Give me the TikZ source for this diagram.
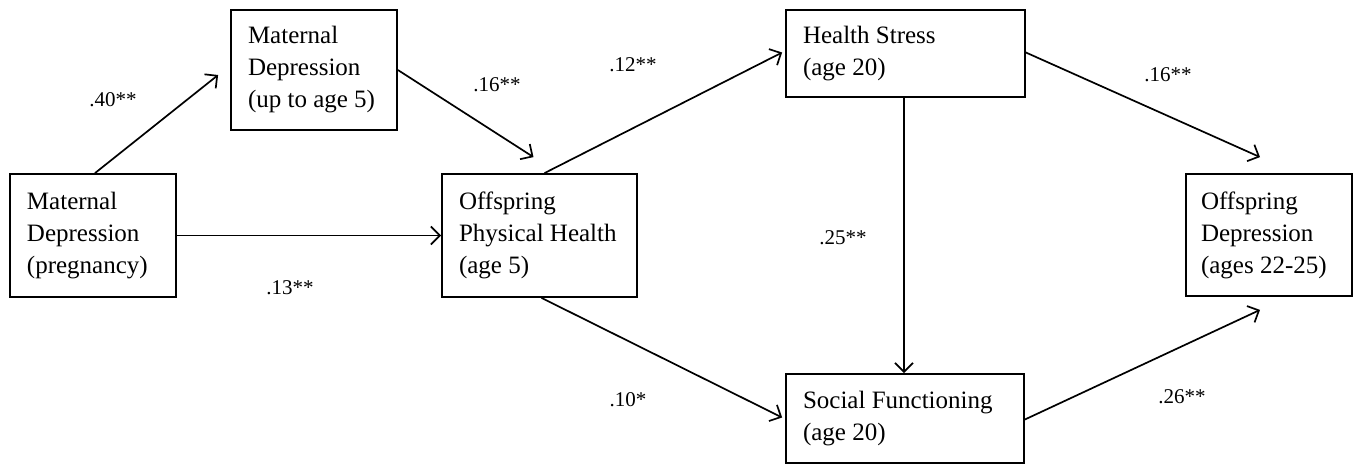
\documentclass[tikz,border=0pt]{standalone}
\usepackage{fontspec}
\setmainfont{Liberation Serif}
\usetikzlibrary{arrows.meta}
\begin{document}
\begin{tikzpicture}[x=1pt,y=-1pt,
  box/.style={draw,line width=1.8pt,inner xsep=17pt,inner ysep=0pt,align=flush left,
    font=\fontsize{25}{32}\selectfont,anchor=center},
  arr/.style={line width=1.7pt,-{Straight Barb[length=9pt,width=18pt,line width=1.7pt]}},
  lab/.style={font=\fontsize{21}{24}\selectfont,inner sep=0pt}]
\useasboundingbox (0,0) rectangle (1358,464);
\node[box,minimum width=166pt,minimum height=123pt,text width=132pt] (A) at (93,235.5) {Maternal\\Depression\\(pregnancy)};
\node[box,minimum width=166pt,minimum height=120pt,text width=132pt] (B) at (314,70) {Maternal\\Depression\\(up to age 5)};
\node[box,minimum width=195pt,minimum height=123pt,text width=161pt] (C) at (539.5,235.5) {Offspring\\Physical Health\\(age 5)};
\node[box,minimum width=239pt,minimum height=87pt,text width=205pt] (D) at (905.5,53.5) {Health Stress\\(age 20)};
\node[box,minimum width=238pt,minimum height=89pt,text width=204pt] (E) at (905,418.5) {Social Functioning\\(age 20)};
\node[box,minimum width=166pt,minimum height=122pt,text width=136pt,inner xsep=15pt] (F) at (1269,235) {Offspring\\Depression\\(ages 22-25)};
\draw[arr] ([xshift=2pt]A.north) -- ([shift={(-12,5)}]B.west);
\draw[arr] (A.east) -- (C.west);
\draw[arr] (B.east) -- ([shift={(-6,-16)}]C.north);
\draw[arr] ([xshift=5pt]C.north) -- ([shift={(-3,-1)}]D.west);
\draw[arr] ([xshift=2pt]C.south) -- ([shift={(-3,-1)}]E.west);
\draw[arr] ([xshift=-1.5pt]D.south) -- ([xshift=-1pt]E.north);
\draw[arr] ([yshift=1pt]D.east) -- ([shift={(-9,-16)}]F.north);
\draw[arr] ([yshift=-1pt]E.east) -- ([shift={(-9,13)}]F.south);
\node[lab] (l1) at (113,100) {.40**};
\node[lab] (l2) at (290,288) {.13**};
\node[lab] (l3) at (497,85) {.16**};
\node[lab] (l4) at (633,65) {.12**};
\node[lab] (l5) at (628,400) {.10*};
\node[lab] (l6) at (843,238) {.25**};
\node[lab] (l7) at (1168,75) {.16**};
\node[lab] (l8) at (1182,397) {.26**};
\end{tikzpicture}
\end{document}
